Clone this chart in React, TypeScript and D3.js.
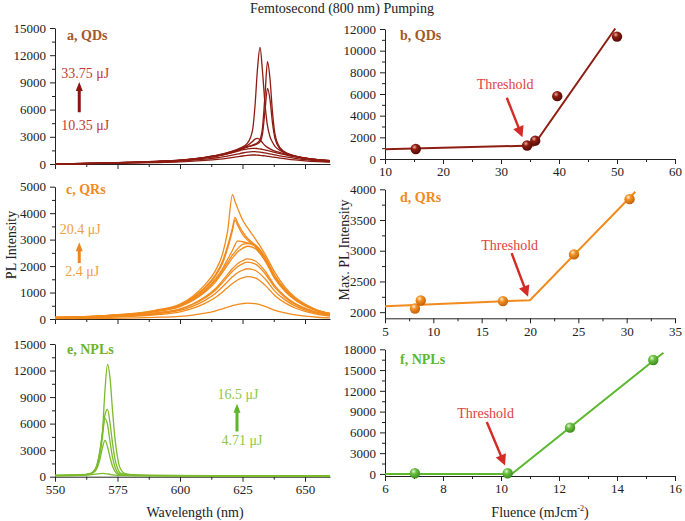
import React, { useEffect, useRef } from "react";
import * as d3 from "d3";

// ---- PL spectra (wavelength in nm, intensity in counts) ----
const qdWavelength = [550, 560, 570, 580, 590, 600, 610, 615, 620, 624, 627, 629, 630, 631, 632, 633, 634, 635, 636, 637, 638, 640, 643, 646, 650, 655, 660];
const qd1 = [20, 55, 110, 190, 290, 430, 740, 980, 1350, 1750, 2300, 3700, 6400, 10500, 12870, 10200, 6600, 4200, 3000, 2400, 1950, 1500, 1120, 880, 660, 480, 370];
const qd2 = [20, 50, 100, 180, 270, 410, 700, 920, 1260, 1620, 1920, 2080, 2200, 2350, 2700, 4000, 7600, 11290, 9400, 5700, 3300, 1800, 1180, 890, 660, 480, 370];
const qd3 = [20, 50, 100, 170, 260, 400, 680, 890, 1210, 1570, 1870, 2020, 2120, 2230, 2450, 3300, 5900, 8350, 7100, 4500, 2800, 1650, 1120, 860, 640, 470, 360];
const qd4 = [20, 55, 110, 190, 290, 430, 740, 970, 1320, 1680, 2050, 2480, 2750, 2830, 2680, 2350, 2050, 1830, 1670, 1540, 1430, 1260, 1030, 830, 640, 470, 360];
const qd5 = [20, 50, 100, 170, 260, 390, 670, 880, 1190, 1480, 1680, 1730, 1730, 1700, 1660, 1610, 1560, 1490, 1420, 1350, 1280, 1140, 950, 780, 600, 450, 350];
const qd6 = [15, 40, 80, 135, 205, 310, 530, 690, 930, 1150, 1320, 1360, 1360, 1340, 1310, 1270, 1220, 1170, 1120, 1060, 1000, 900, 750, 610, 480, 350, 270];
const qd7 = [10, 30, 60, 100, 150, 230, 390, 510, 680, 840, 960, 990, 990, 970, 950, 920, 890, 850, 810, 770, 730, 650, 540, 450, 350, 260, 200];

const qrWavelength = [550, 570, 590, 600, 605, 610, 614, 617, 619, 621, 622, 623, 625, 627, 630, 634, 638, 642, 646, 650, 655, 660];
const qr0 = [12, 24, 60, 102, 150, 222, 300, 384, 444, 504, 528, 552, 582, 600, 582, 480, 330, 228, 156, 108, 66, 42];
const qr1 = [32, 64, 160, 272, 400, 592, 800, 1024, 1184, 1344, 1408, 1472, 1552, 1600, 1552, 1280, 880, 608, 416, 288, 176, 112];
const qr2 = [38, 76, 190, 323, 475, 703, 950, 1216, 1406, 1596, 1672, 1748, 1843, 1900, 1843, 1520, 1045, 722, 494, 342, 209, 133];
const qr3 = [43, 86, 215, 366, 538, 796, 1075, 1376, 1591, 1806, 1892, 1978, 2086, 2150, 2086, 1720, 1183, 817, 559, 387, 237, 151];
const qr4 = [45, 91, 227, 386, 568, 840, 1135, 1453, 1680, 1907, 1998, 2088, 2202, 2270, 2202, 1816, 1249, 863, 590, 409, 250, 159];
const qr5 = [55, 110, 275, 468, 688, 1018, 1375, 1760, 2035, 2310, 2420, 2530, 2668, 2750, 2668, 2200, 1513, 1045, 715, 495, 303, 193];
const qr6 = [57, 114, 290, 490, 720, 1060, 1440, 1840, 2130, 2420, 2540, 2650, 2820, 2850, 2760, 2260, 1560, 1080, 740, 510, 310, 200];
const qr7 = [60, 120, 300, 510, 750, 1100, 1500, 1900, 2250, 2600, 2800, 2950, 2920, 2880, 2800, 2350, 1620, 1120, 770, 530, 320, 200];
const qr8 = [60, 120, 300, 520, 780, 1160, 1600, 2100, 2650, 3350, 3750, 3550, 3200, 2980, 2750, 2250, 1580, 1100, 760, 520, 320, 200];
const qr9 = [62, 125, 310, 530, 800, 1200, 1650, 2180, 2750, 3450, 3840, 3650, 3300, 3050, 2800, 2300, 1620, 1120, 770, 530, 320, 200];
const qr10 = [65, 130, 330, 560, 850, 1300, 1800, 2450, 3300, 4700, 4450, 4200, 3750, 3450, 3050, 2450, 1750, 1200, 820, 560, 340, 210];

const nplWavelength = [550, 560, 564, 566, 567, 568, 569, 570, 571, 572, 573, 574, 575, 576, 578, 582, 590, 620, 660];
const npl1 = [150, 220, 350, 800, 1500, 2900, 5200, 9800, 12700, 11200, 7500, 4300, 2200, 1000, 350, 200, 150, 100, 80];
const npl2 = [140, 200, 330, 700, 1300, 2600, 4500, 7000, 7600, 6100, 3800, 2000, 950, 450, 250, 180, 140, 100, 80];
const npl3 = [140, 200, 330, 800, 1600, 3000, 5000, 6600, 5900, 4000, 2200, 1100, 500, 300, 220, 170, 130, 100, 80];
const npl4 = [130, 190, 300, 600, 1100, 2000, 3300, 4100, 3400, 2200, 1200, 600, 300, 220, 180, 150, 120, 100, 80];
const npl5 = [100, 150, 200, 280, 320, 350, 370, 350, 310, 260, 210, 180, 160, 140, 120, 110, 100, 90, 80];

// ---- max PL intensity vs pump fluence ----
const qdFluence = [15.3, 34.5, 35.9, 39.7, 50.0];
const qdMaxPL = [920, 1250, 1690, 5800, 11300];
const qdFitX = [10, 35.6, 49.7];
const qdFitY = [890, 1250, 12050];

const qrFluence = [8.1, 8.7, 17.2, 24.55, 30.3];
const qrMaxPL = [2060, 2190, 2180, 2940, 3840];
const qrFitX = [5, 20, 30.9];
const qrFitY = [2095, 2195, 3960];

const nplFluence = [7.03, 10.23, 12.38, 15.25];
const nplMaxPL = [100, 100, 6680, 16450];
const nplFitX = [6, 10.37, 15.6];
const nplFitY = [0, 0, 17500];

const FONT = "'Liberation Serif', 'Times New Roman', serif";

function arrowPath(x1: number, y1: number, x2: number, y2: number, sw: number, hl: number, hw: number) {
  const dx = x2 - x1, dy = y2 - y1;
  const len = Math.hypot(dx, dy);
  const ux = dx / len, uy = dy / len;
  const nx = -uy, ny = ux;
  const bx = x2 - ux * hl, by = y2 - uy * hl;
  const p = [
    [x1 + nx * sw / 2, y1 + ny * sw / 2],
    [bx + nx * sw / 2, by + ny * sw / 2],
    [bx + nx * hw / 2, by + ny * hw / 2],
    [x2, y2],
    [bx - nx * hw / 2, by - ny * hw / 2],
    [bx - nx * sw / 2, by - ny * sw / 2],
    [x1 - nx * sw / 2, y1 - ny * sw / 2],
  ];
  return "M" + p.map(d => d.join(",")).join("L") + "Z";
}

export default function App() {
  const ref = useRef<SVGSVGElement>(null);

  useEffect(() => {
    const svg = d3.select(ref.current);
    svg.selectAll("*").remove();

    const defs = svg.append("defs");
    const spheres: [string, string, string, string][] = [
      ["ball-qd", "#f0b0a0", "#8e1d12", "#4e0a05"],
      ["ball-qr", "#fff0d0", "#f39125", "#c0600a"],
      ["ball-npl", "#e6fad4", "#6cc144", "#3a8a1e"],
    ];
    spheres.forEach(([id, hi, mid, lo]) => {
      const g = defs.append("radialGradient").attr("id", id).attr("cx", "38%").attr("cy", "32%").attr("r", "70%");
      g.append("stop").attr("offset", "0%").attr("stop-color", hi);
      g.append("stop").attr("offset", "35%").attr("stop-color", mid);
      g.append("stop").attr("offset", "100%").attr("stop-color", lo);
    });

    const styleAxis = (g: any) => {
      g.attr("font-family", FONT).attr("font-size", 13);
      g.selectAll("line").attr("stroke", "#222");
      g.selectAll("path").attr("stroke", "#222");
      g.selectAll("text").attr("font-family", FONT).attr("font-size", 13).attr("fill", "#222");
    };

    const fmt = d3.format("d");

    const drawAxes = (x: any, y: any, xMajor: number[], xMinor: number[], yMajor: number[], yMinor: number[], xLabels: boolean) => {
      const y0 = y.range()[0];
      const x0 = x.range()[0];
      const gx = svg.append("g").attr("transform", `translate(0,${y0})`)
        .call(d3.axisBottom(x).tickValues(xMajor).tickSize(5).tickSizeOuter(0).tickPadding(3)
          .tickFormat((d: any) => (xLabels ? fmt(d) : "")));
      styleAxis(gx);
      const gxm = svg.append("g").attr("transform", `translate(0,${y0})`)
        .call(d3.axisBottom(x).tickValues(xMinor).tickSize(3).tickSizeOuter(0).tickFormat(() => ""));
      gxm.select(".domain").remove();
      styleAxis(gxm);
      const gy = svg.append("g").attr("transform", `translate(${x0},0)`)
        .call(d3.axisLeft(y).tickValues(yMajor).tickSize(5).tickSizeOuter(0).tickPadding(4).tickFormat((d: any) => fmt(d)));
      styleAxis(gy);
      const gym = svg.append("g").attr("transform", `translate(${x0},0)`)
        .call(d3.axisLeft(y).tickValues(yMinor).tickSize(3).tickSizeOuter(0).tickFormat(() => ""));
      gym.select(".domain").remove();
      styleAxis(gym);
    };

    const spectra = (x: any, y: any, wl: number[], curves: number[][], color: string) => {
      const line = d3.line<number>().x((_, i) => x(wl[i])).y(d => y(d)).curve(d3.curveMonotoneX);
      svg.append("g").selectAll("path").data(curves).join("path")
        .attr("d", d => line(d))
        .attr("fill", "none").attr("stroke", color).attr("stroke-width", 1.3);
    };

    const fitAndPoints = (x: any, y: any, fx: number[], fy: number[], px: number[], py: number[], color: string, ball: string) => {
      const line = d3.line<number>().x((_, i) => x(fx[i])).y(d => y(d));
      svg.append("path").attr("d", line(fy)).attr("fill", "none").attr("stroke", color).attr("stroke-width", 2);
      svg.append("g").selectAll("circle").data(px).join("circle")
        .attr("cx", d => x(d)).attr("cy", (_, i) => y(py[i])).attr("r", 5.2)
        .attr("fill", `url(#${ball})`);
    };

    const label = (x: number, y: number, text: string, color: string, opts: any = {}) => {
      svg.append("text").attr("x", x).attr("y", y).text(text)
        .attr("font-family", FONT).attr("font-size", opts.size || 14)
        .attr("font-weight", opts.bold ? "bold" : "normal")
        .attr("text-anchor", opts.anchor || "start").attr("fill", color);
    };

    const threshold = (x: any, y: any, tx: number, ty: number, ax1: number, ay1: number, ax2: number, ay2: number) => {
      label(x(tx), y(ty) + 5, "Threshold", "#e0413d", { anchor: "middle" });
      svg.append("path").attr("d", arrowPath(x(ax1), y(ay1), x(ax2), y(ay2), 2.4, 11, 11)).attr("fill", "#d52b26");
    };

    const pumpArrow = (x: any, y: any, wl: number, top: number, bottom: number, hiText: string, loText: string, hiY: number, loY: number, textColor: string, arrowColor: string, hiDx: number, loDx: number) => {
      label(x(wl) + hiDx, y(hiY) + 5, hiText, textColor, { anchor: "middle" });
      label(x(wl) + loDx, y(loY) + 5, loText, textColor, { anchor: "middle" });
      svg.append("path").attr("d", arrowPath(x(wl), y(bottom), x(wl), y(top), 3, 9, 7)).attr("fill", arrowColor);
    };

    const xWl = d3.scaleLinear().domain([550, 660]).range([55, 330]);
    const wlMajor = d3.range(550, 651, 25);
    const wlMinor = [562.5, 587.5, 612.5, 637.5];

    // a: QDs spectra
    const yA = d3.scaleLinear().domain([0, 15000]).range([164, 28]);
    drawAxes(xWl, yA, wlMajor, wlMinor, d3.range(0, 15001, 3000), d3.range(1500, 15000, 3000), false);
    spectra(xWl, yA, qdWavelength, [qd7, qd6, qd5, qd4, qd3, qd2, qd1], "#8e1b12");
    label(67, 40, "a, QDs", "#a3582a", { bold: true });
    pumpArrow(xWl, yA, 559.7, 9050, 5700, "33.75 \u03bcJ", "10.35 \u03bcJ", 10040, 4300, "#c23a33", "#8e1410", 6, 6);

    // c: QRs spectra
    const yC = d3.scaleLinear().domain([0, 5000]).range([319, 186.7]);
    drawAxes(xWl, yC, wlMajor, wlMinor, d3.range(0, 5001, 1000), d3.range(500, 5000, 1000), false);
    spectra(xWl, yC, qrWavelength, [qr0, qr1, qr2, qr3, qr4, qr5, qr6, qr7, qr8, qr9, qr10], "#f28a1c");
    label(66, 194, "c, QRs", "#f28a1c", { bold: true });
    pumpArrow(xWl, yC, 559.7, 2900, 2120, "20.4 \u03bcJ", "2.4 \u03bcJ", 3400, 1830, "#f0a040", "#f0861a", 1, 3);

    // e: NPLs spectra
    const yE = d3.scaleLinear().domain([0, 15000]).range([476.7, 344]);
    drawAxes(xWl, yE, wlMajor, wlMinor, d3.range(0, 15001, 3000), d3.range(1500, 15000, 3000), true);
    spectra(xWl, yE, nplWavelength, [npl5, npl4, npl3, npl2, npl1], "#7cbb2c");
    label(67, 354, "e, NPLs", "#6db42b", { bold: true });
    pumpArrow(xWl, yE, 622.8, 8250, 5100, "16.5 \u03bcJ", "4.71 \u03bcJ", 9350, 4150, "#8cc84a", "#5fb52a", 1, 5);

    // b: QDs threshold
    const xB = d3.scaleLinear().domain([10, 60]).range([385, 675]);
    const yB = d3.scaleLinear().domain([0, 12000]).range([159, 29]);
    drawAxes(xB, yB, d3.range(10, 61, 10), d3.range(15, 60, 10), d3.range(0, 12001, 2000), d3.range(1000, 12000, 2000), true);
    fitAndPoints(xB, yB, qdFitX, qdFitY, qdFluence, qdMaxPL, "#8e1d12", "ball-qd");
    label(400, 40, "b, QDs", "#a3582a", { bold: true });
    threshold(xB, yB, 30.7, 6920, 31.0, 5650, 33.7, 2000);

    // d: QRs threshold
    const xD = d3.scaleLinear().domain([5, 35]).range([385, 675]);
    const yD = d3.scaleLinear().domain([1900, 4000]).range([318.3, 189.3]);
    drawAxes(xD, yD, d3.range(5, 36, 5), d3.range(7.5, 35, 5), d3.range(2000, 4001, 500), d3.range(2250, 4000, 500), true);
    fitAndPoints(xD, yD, qrFitX, qrFitY, qrFluence, qrMaxPL, "#f28a1c", "ball-qr");
    label(400, 202, "d, QRs", "#f28a1c", { bold: true });
    threshold(xD, yD, 17.9, 3093, 18.1, 2960, 19.8, 2250);

    // f: NPLs threshold
    const xF = d3.scaleLinear().domain([6, 16]).range([385, 675]);
    const yF = d3.scaleLinear().domain([-300, 18000]).range([476, 349.3]);
    drawAxes(xF, yF, d3.range(6, 17, 2), d3.range(7, 16, 2), d3.range(0, 18001, 3000), d3.range(1500, 18000, 3000), true);
    fitAndPoints(xF, yF, nplFitX, nplFitY, nplFluence, nplMaxPL, "#5cb82e", "ball-npl");
    label(400, 364, "f, NPLs", "#5cb82e", { bold: true });
    threshold(xF, yF, 9.47, 8800, 9.51, 7500, 10.14, 1200);

    // titles
    label(342, 13, "Femtosecond (800 nm) Pumping", "#222", { anchor: "middle", size: 14 });
    label(195, 517, "Wavelength (nm)", "#222", { anchor: "middle" });
    const fl = svg.append("text").attr("x", 540).attr("y", 517).attr("text-anchor", "middle")
      .attr("font-family", FONT).attr("font-size", 14).attr("fill", "#222");
    fl.append("tspan").text("Fluence (mJcm");
    fl.append("tspan").text("-2").attr("font-size", 8).attr("dy", -6);
    fl.append("tspan").text(")").attr("dy", 6);
    svg.append("text").attr("transform", "translate(16,245) rotate(-90)").attr("text-anchor", "middle")
      .attr("font-family", FONT).attr("font-size", 14).attr("fill", "#222").text("PL Intensity");
    svg.append("text").attr("transform", "translate(349,250) rotate(-90)").attr("text-anchor", "middle")
      .attr("font-family", FONT).attr("font-size", 14).attr("fill", "#222").text("Max. PL Intensity");
  }, []);

  return (
    <svg ref={ref} width={685} height={521}
      style={{ position: "absolute", left: 0, top: 0, background: "#fff" }} />
  );
}
